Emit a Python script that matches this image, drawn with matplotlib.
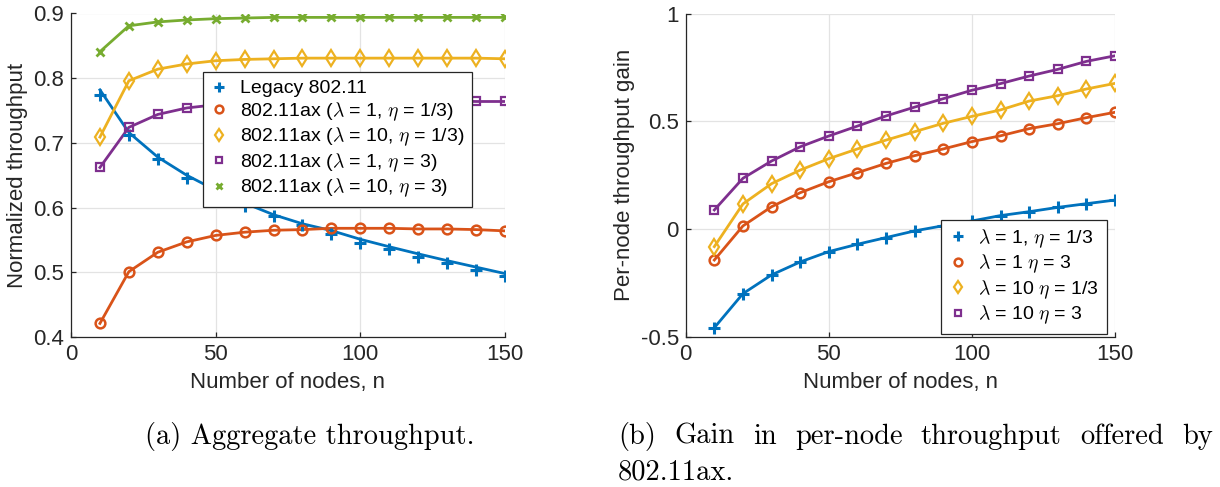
import matplotlib
matplotlib.use('Agg')
import matplotlib.pyplot as plt
from matplotlib.ticker import FuncFormatter

# ---- data -------------------------------------------------------------
n_nodes = [10, 20, 30, 40, 50, 60, 70, 80, 90, 100, 110, 120, 130, 140, 150]

# (a) aggregate normalized throughput
legacy_sim = [0.774, 0.712, 0.675, 0.645, 0.622, 0.602, 0.587, 0.573, 0.559,
              0.545, 0.536, 0.524, 0.514, 0.504, 0.495]
legacy_model = [0.782, 0.716, 0.678, 0.650, 0.627, 0.607, 0.589, 0.575, 0.5645,
                0.551, 0.5395, 0.5285, 0.518, 0.508, 0.498]
ax_l1_e13 = [0.421, 0.501, 0.531, 0.547, 0.557, 0.562, 0.565, 0.566, 0.568,
             0.568, 0.568, 0.567, 0.567, 0.566, 0.564]
ax_l10_e13 = [0.709, 0.796, 0.814, 0.822, 0.827, 0.829, 0.830, 0.831, 0.831,
              0.831, 0.831, 0.831, 0.831, 0.831, 0.830]
ax_l1_e3 = [0.662, 0.724, 0.744, 0.754, 0.759, 0.762, 0.764, 0.765, 0.765,
            0.765, 0.765, 0.765, 0.765, 0.764, 0.764]
ax_l10_e3 = [0.841, 0.881, 0.887, 0.890, 0.892, 0.893, 0.894, 0.894, 0.894,
             0.894, 0.894, 0.894, 0.894, 0.894, 0.894]

# (b) per-node throughput gain
gain_l1_e13 = [-0.457, -0.299, -0.212, -0.152, -0.104, -0.070, -0.039, -0.008,
               0.016, 0.038, 0.063, 0.081, 0.101, 0.118, 0.135]
gain_l1_e3 = [-0.143, 0.015, 0.104, 0.169, 0.220, 0.262, 0.305, 0.341, 0.372,
              0.406, 0.433, 0.466, 0.489, 0.517, 0.542]
gain_l10_e13 = [-0.081, 0.117, 0.211, 0.274, 0.327, 0.372, 0.413, 0.452, 0.491,
                0.523, 0.553, 0.594, 0.619, 0.650, 0.676]
gain_l10_e3 = [0.089, 0.236, 0.316, 0.382, 0.432, 0.478, 0.525, 0.566, 0.605,
               0.644, 0.675, 0.710, 0.741, 0.778, 0.804]

labels_a = ['Legacy 802.11',
            r'802.11ax ($\lambda$ = 1, $\eta$ = 1/3)',
            r'802.11ax ($\lambda$ = 10, $\eta$ = 1/3)',
            r'802.11ax ($\lambda$ = 1, $\eta$ = 3)',
            r'802.11ax ($\lambda$ = 10, $\eta$ = 3)']
labels_b = [r'$\lambda$ = 1, $\eta$ = 1/3',
            r'$\lambda$ = 1 $\eta$ = 3',
            r'$\lambda$ = 10 $\eta$ = 1/3',
            r'$\lambda$ = 10 $\eta$ = 3']

# ---- style ------------------------------------------------------------
plt.rcParams.update({
    'font.family': ['Liberation Sans', 'DejaVu Sans'],
    'mathtext.fontset': 'cm',
    'axes.unicode_minus': False,
})

C_BLUE, C_RED, C_YEL, C_PUR, C_GRN = '#0072BD', '#D95319', '#EDB120', '#7E2F8E', '#77AC30'
INK = '#262626'
FS = 16
FS_LEG = 14

MARK = {
    '+': dict(marker='+', markersize=9, markeredgewidth=2.2),
    'o': dict(marker='o', markersize=7, markeredgewidth=1.8, markerfacecolor='none'),
    'd': dict(marker='d', markersize=8, markeredgewidth=1.6, markerfacecolor='none'),
    's': dict(marker='s', markersize=6, markeredgewidth=1.6, markerfacecolor='none'),
    'x': dict(marker='x', markersize=6, markeredgewidth=2.0),
}

fig = plt.figure(figsize=(12.2, 4.87), dpi=100)
W, H = 1220.0, 487.0
axL = fig.add_axes([71 / W, 1 - 337 / H, 434 / W, 323.5 / H])
axR = fig.add_axes([685.7 / W, 1 - 337 / H, 429.3 / W, 323.5 / H])


def style(ax):
    for s in ('top', 'right'):
        ax.spines[s].set_visible(False)
    for s in ('left', 'bottom'):
        ax.spines[s].set_color(INK)
        ax.spines[s].set_linewidth(0.9)
    ax.grid(True, color='#e3e3e3', linewidth=0.9)
    ax.set_axisbelow(True)
    ax.tick_params(direction='in', length=3.5, width=0.9, colors=INK,
                   labelsize=FS, labelcolor=INK)
    ax.tick_params(axis='x', pad=5)
    ax.tick_params(axis='y', pad=5)
    ax.set_xlim(0, 150)
    ax.set_xticks([0, 50, 100, 150])
    ax.set_xlabel('Number of nodes, n', fontsize=FS, color=INK, labelpad=5)


def series(ax, y_line, y_mark, color, mk):
    ax.plot(n_nodes, y_line, color=color, linewidth=2, zorder=2)
    h, = ax.plot(n_nodes, y_mark, linestyle='none', color=color, zorder=3, **MARK[mk])
    return h


LEG = dict(borderaxespad=0, frameon=True, fancybox=False, framealpha=1,
           edgecolor=INK, fontsize=FS_LEG, handlelength=0.9, handletextpad=0.6,
           borderpad=0.4, labelspacing=0.15, markerscale=0.8)

# ---- (a) aggregate throughput -----------------------------------------
style(axL)
hA = [
    series(axL, legacy_model, legacy_sim, C_BLUE, '+'),
    series(axL, ax_l1_e13, ax_l1_e13, C_RED, 'o'),
    series(axL, ax_l10_e13, ax_l10_e13, C_YEL, 'd'),
    series(axL, ax_l1_e3, ax_l1_e3, C_PUR, 's'),
    series(axL, ax_l10_e3, ax_l10_e3, C_GRN, 'x'),
]
axL.set_ylim(0.4, 0.9)
axL.set_yticks([0.4, 0.5, 0.6, 0.7, 0.8, 0.9])
axL.set_ylabel('Normalized throughput', fontsize=FS, color=INK, labelpad=4)
legA = axL.legend(hA, labels_a, loc='upper left', bbox_to_anchor=(0.304, 0.819), **LEG)
legA.get_frame().set_linewidth(0.9)

# ---- (b) per-node gain ------------------------------------------------
style(axR)
hB = [
    series(axR, gain_l1_e13, gain_l1_e13, C_BLUE, '+'),
    series(axR, gain_l1_e3, gain_l1_e3, C_RED, 'o'),
    series(axR, gain_l10_e13, gain_l10_e13, C_YEL, 'd'),
    series(axR, gain_l10_e3, gain_l10_e3, C_PUR, 's'),
]
axR.set_ylim(-0.5, 1)
axR.set_yticks([-0.5, 0, 0.5, 1])
axR.yaxis.set_major_formatter(FuncFormatter(lambda v, p: '%g' % v))
axR.set_ylabel('Per-node throughput gain', fontsize=FS, color=INK, labelpad=4)
legB = axR.legend(hB, labels_b, loc='lower right', bbox_to_anchor=(0.981, 0.009), **LEG)
legB.get_frame().set_linewidth(0.9)

# ---- captions ---------------------------------------------------------
CAP = dict(family='cmr10', fontsize=20.5, color='black', va='baseline')
fig.text(310 / W, 1 - 444 / H, '(a) Aggregate throughput.', ha='center', **CAP)

# justified first line of caption (b)
words = ['(b)', 'Gain', 'in', 'per-node', 'throughput', 'offered', 'by']
x0, x1 = 618.0, 1213.0
renderer = fig.canvas.get_renderer()
objs = [fig.text(0, 1 - 444 / H, w, ha='left', **CAP) for w in words]
widths = [o.get_window_extent(renderer).width for o in objs]
gap = (x1 - x0 - sum(widths)) / (len(words) - 1)
x = x0
for o, w in zip(objs, widths):
    o.set_x(x / W)
    x += w + gap
fig.text(x0 / W, 1 - 480 / H, '802.11ax.', ha='left', **CAP)

fig.savefig('out.png', dpi=100)
